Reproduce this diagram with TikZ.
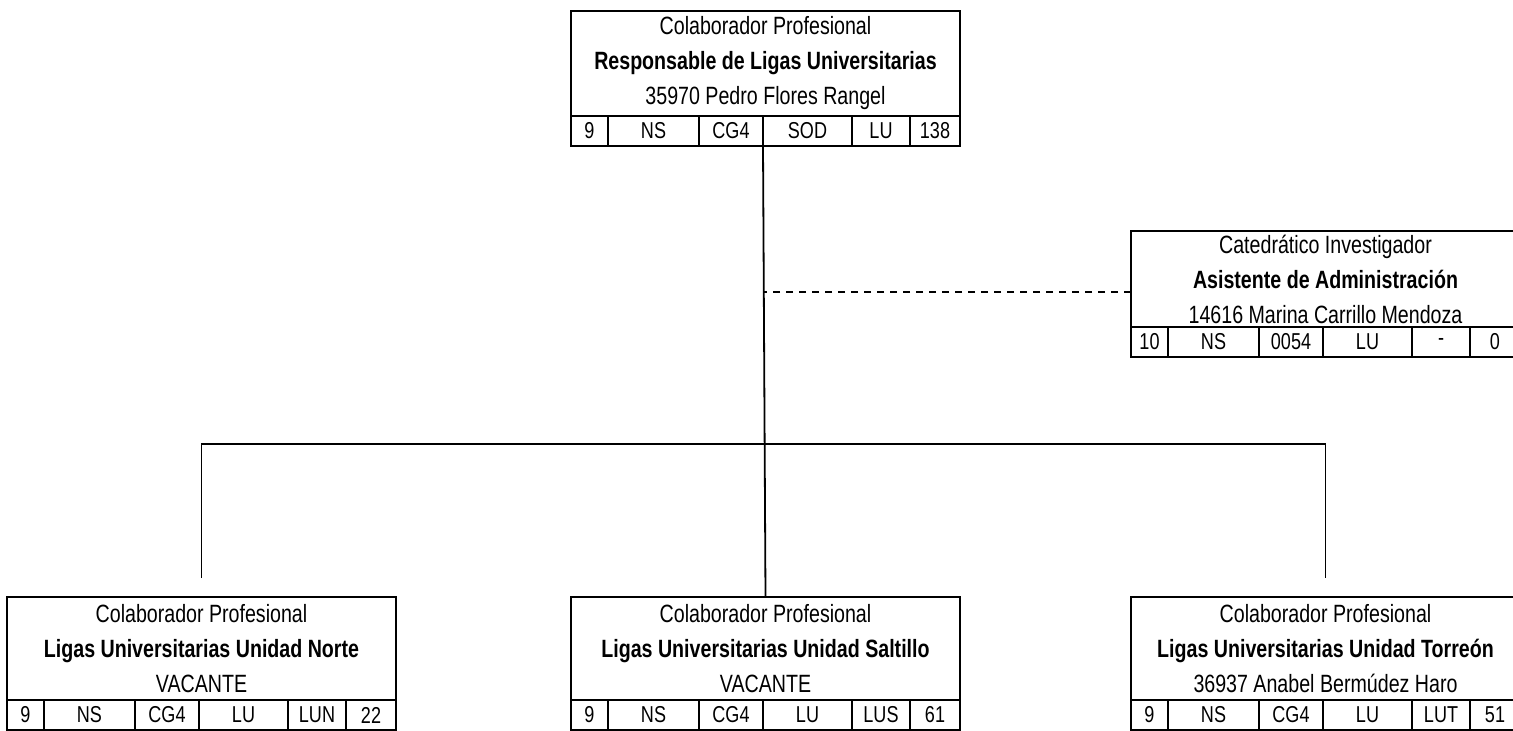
\documentclass[tikz,border=0pt]{standalone}
\usepackage{fontspec}
\setmainfont{Liberation Sans}[FakeStretch=0.785]
\usetikzlibrary{positioning}

\tikzset{
  caja/.style={draw, line width=1.9pt, outer sep=0pt, inner sep=0pt, minimum width=389pt, anchor=north west, align=center, font=\fontsize{25}{35}\selectfont},
  celda/.style={draw, line width=1.9pt, outer sep=0pt, inner sep=0pt, minimum height=30pt, anchor=north west, font=\fontsize{23}{23}\selectfont},
  linea/.style={line width=1.8pt},
  punteada/.style={line width=1.5pt, dash pattern=on 7pt off 6pt}
}

\newcommand{\fila}[7]{%
  \node[celda, minimum width=37pt] (#1-1) at (#1.south west) {#2};
  \node[celda, minimum width=91pt, right=0pt of #1-1] (#1-2) {#3};
  \node[celda, minimum width=64pt, right=0pt of #1-2] (#1-3) {#4};
  \node[celda, minimum width=89pt, right=0pt of #1-3] (#1-4) {#5};
  \node[celda, minimum width=58pt, right=0pt of #1-4] (#1-5) {#6};
  \node[celda, minimum width=50pt, right=0pt of #1-5] (#1-6) {#7};
}

\begin{document}
\begin{tikzpicture}[x=1pt, y=-1pt]
\useasboundingbox (0,0) rectangle (1513,731);
\clip (0,0) rectangle (1513,731);

\node[caja, minimum height=105pt] (resp) at (571,11) {Colaborador Profesional\\\textbf{Responsable de Ligas Universitarias}\\35970 Pedro Flores Rangel};
\fila{resp}{9}{NS}{CG4}{SOD}{LU}{138}

\node[caja, minimum height=96pt] (asist) at (1131,231) {Catedrático Investigador\\\textbf{Asistente de Administración}\\14616 Marina Carrillo Mendoza};
\fila{asist}{10}{NS}{0054}{LU}{-}{0}

\node[caja, minimum height=103pt] (norte) at (7,597) {Colaborador Profesional\\\textbf{Ligas Universitarias Unidad Norte}\\VACANTE};
\fila{norte}{9}{NS}{CG4}{LU}{LUN}{22}

\node[caja, minimum height=103pt] (saltillo) at (571,597) {Colaborador Profesional\\\textbf{Ligas Universitarias Unidad Saltillo}\\VACANTE};
\fila{saltillo}{9}{NS}{CG4}{LU}{LUS}{61}

\node[caja, minimum height=103pt] (torreon) at (1131,597) {Colaborador Profesional\\\textbf{Ligas Universitarias Unidad Torreón}\\36937 Anabel Bermúdez Haro};
\fila{torreon}{9}{NS}{CG4}{LU}{LUT}{51}

\draw[linea] (resp-3.south east) -- (saltillo.north);
\coordinate (bus) at (765,444);
\draw[linea] ([yshift=19pt]norte.north) -- (norte.north |- bus) -- (torreon.north |- bus) -- ([yshift=19pt]torreon.north);
\coordinate (rama) at ([yshift=-13pt]asist.west);
\draw[punteada] (rama) -- (resp-3.south east |- rama);
\end{tikzpicture}
\end{document}
